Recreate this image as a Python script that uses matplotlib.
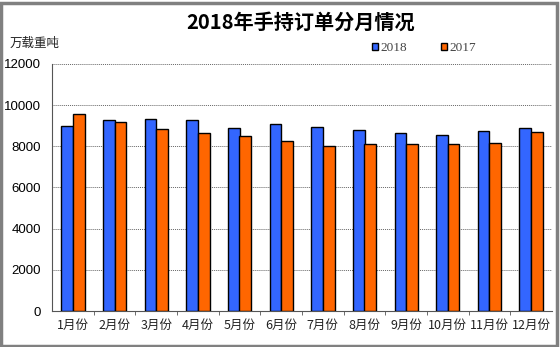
import matplotlib
matplotlib.use("Agg")
import matplotlib.pyplot as plt
from matplotlib.patches import Rectangle
import numpy as np

plt.rcParams['font.family'] = ['Noto Sans CJK SC', 'DejaVu Sans']

months = ["1月份", "2月份", "3月份", "4月份", "5月份", "6月份",
          "7月份", "8月份", "9月份", "10月份", "11月份", "12月份"]
orders_2018 = [9000, 9270, 9350, 9300, 8900, 9070, 8940, 8810, 8630, 8550, 8730, 8910]
orders_2017 = [9580, 9200, 8840, 8630, 8520, 8280, 8020, 8110, 8110, 8110, 8160, 8700]
yticks = [0, 2000, 4000, 6000, 8000, 10000, 12000]

W, H = 560, 347
fig = plt.figure(figsize=(W / 100, H / 100), dpi=100)

# outer frame
fig.patches.append(Rectangle((1 / W, 1 / H), 1 - 4 / W, 1 - 4 / H,
                             transform=fig.transFigure, fill=False,
                             edgecolor="#808080", linewidth=2.5))

ax = fig.add_axes([52 / W, 1 - 311 / H, 500 / W, 247 / H])
x = np.arange(len(months))
bw = 0.28
ax.bar(x - bw / 2, orders_2018, bw, color="#3366FF", edgecolor="black",
       linewidth=1.0, label="2018", zorder=3)
ax.bar(x + bw / 2, orders_2017, bw, color="#FF6600", edgecolor="black",
       linewidth=1.0, label="2017", zorder=3)

ax.set_xlim(-0.5, len(months) - 0.5)
ax.set_ylim(0, 12000)
ax.set_yticks(yticks)
ax.set_yticklabels([str(v) for v in yticks], fontfamily="Liberation Sans",
                   fontsize=9.5)
ax.tick_params(axis="y", length=0, pad=8)

ax.set_xticks(x)
ax.set_xticklabels(months, fontsize=9, color="#222222")
ax.tick_params(axis="x", length=0, pad=6)
ax.set_xticks(np.arange(0.5, len(months) - 0.5, 1), minor=True)
ax.tick_params(axis="x", which="minor", length=3, direction="out", color="#555555")

ax.grid(axis="y", linestyle=(0, (1, 1)), color="#666666", linewidth=0.7, zorder=0)
for s in ["top", "right"]:
    ax.spines[s].set_visible(False)
ax.spines["left"].set_color("#555555")
ax.spines["bottom"].set_color("#555555")

fig.text(301 / W, 1 - 22 / H, "2018年手持订单分月情况", ha="center", va="center",
         fontsize=14.5, fontweight="bold", color="black")
fig.text(10 / W, 1 - 43 / H, "万载重吨", ha="left", va="center", fontsize=9,
         color="#222222")

leg = fig.legend(loc="center", bbox_to_anchor=(424 / W, 1 - 48 / H), ncol=2,
                 frameon=False, handlelength=0.45, handleheight=0.45,
                 handletextpad=0.15, columnspacing=2.6,
                 prop={"family": "Liberation Serif", "size": 9.5})
for t in leg.get_texts():
    t.set_color("#444444")

fig.savefig("out.png", dpi=100)
